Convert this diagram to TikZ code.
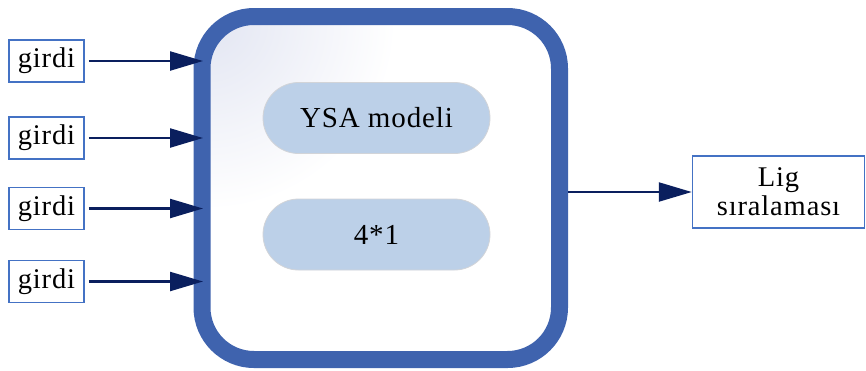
\documentclass[tikz,border=0pt]{standalone}
\usepackage{fontspec}
\setmainfont{Liberation Serif}[LetterSpace=3]
\usetikzlibrary{arrows.meta,calc}
\definecolor{boxblue}{HTML}{4472C4}
\definecolor{bigblue}{HTML}{3F63AE}
\definecolor{navy}{HTML}{0A1F5E}
\definecolor{pill}{HTML}{BCD0E8}
\definecolor{pillline}{HTML}{D2D4D8}
\definecolor{glow}{HTML}{E2E5F2}
\tikzset{
  inbox/.style={draw=boxblue, line width=1.5pt, fill=white, minimum width=75pt, minimum height=42pt, inner sep=0pt, font=\fontsize{28.5}{30}\selectfont},
  outbox/.style={draw=boxblue, line width=1.5pt, fill=white, minimum width=172pt, minimum height=72pt, inner sep=0pt, align=center, font=\fontsize{28.5}{29}\selectfont},
  pillbox/.style={draw=pillline, line width=0.8pt, fill=pill, rounded corners=35.5pt, minimum width=227pt, minimum height=71pt, inner sep=0pt, font=\fontsize{29}{30}\selectfont},
  conn/.style={draw=navy, line width=2.3pt, -{Triangle[length=33pt,width=19pt]}},
}
\begin{document}
\begin{tikzpicture}[x=1pt,y=-1pt]
\useasboundingbox (0,0) rectangle (866,370);
% big container
\begin{scope}
  \clip[rounded corners=52pt] (202,16.5) rectangle (559.5,359.5);
  \fill[white] (202,16.5) rectangle (559.5,359.5);
  \shade[inner color=glow, outer color=white] (206,20) circle (190pt);
\end{scope}
\node[draw=bigblue, line width=17pt, rounded corners=52pt, minimum width=357.5pt, minimum height=343pt, outer sep=0pt, inner sep=0pt] (big) at (380.75,188) {};
\node[pillbox] (ysa) at (376.5,118) {YSA modeli};
\node[pillbox] (dim) at (376.5,234.5) {4*1};
% inputs
\node[inbox] (g1) at (46.5,61) {girdi};
\node[inbox] (g2) at (46.5,138) {girdi};
\node[inbox] (g3) at (46.5,208.5) {girdi};
\node[inbox] (g4) at (46.5,281.5) {girdi};
\foreach \g in {g1,g2,g3,g4}{
  \draw[conn] ($(\g.east)+(4,0)$) -- ($(big.west |- \g.east)+(1,0)$);
}
% output
\node[outbox] (lig) at (778.5,192) {Lig\\sıralaması};
\draw[conn] ($(big.east |- lig.west)+(8.5,0)$) -- (lig.west);
\end{tikzpicture}
\end{document}
